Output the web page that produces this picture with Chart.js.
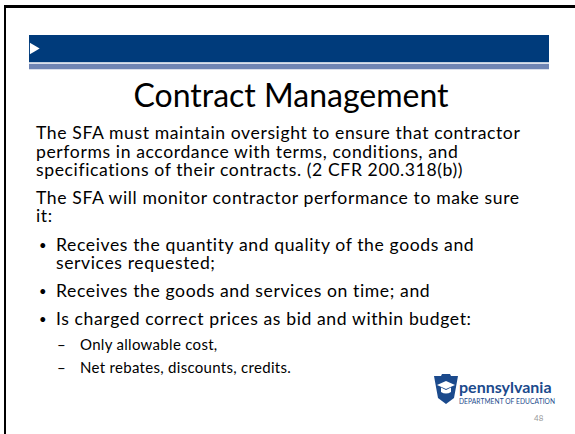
<!DOCTYPE html>
<html>
<head>
<meta charset="utf-8">
<script src="https://cdn.jsdelivr.net/npm/chart.js@4"></script>
<style>
  html, body { margin: 0; padding: 0; background: #fff; }
  body { width: 575px; height: 434px; position: relative; overflow: hidden; font-family: Lato, "Open Sans", sans-serif; color: #000; }
  .frameTop { position: absolute; left: 4px; top: 5px; width: 571px; height: 3px; background: #000; }
  .frameLeft { position: absolute; left: 4px; top: 5px; width: 2px; height: 429px; background: #000; }
  #banner { position: absolute; left: 29px; top: 35px; }
  .title { position: absolute; left: 0; width: 582px; text-align: center; top: 77px; font-size: 32px; line-height: 36px; }
  .ln { position: absolute; font-size: 17.6px; line-height: 16px; letter-spacing: 0.6px; white-space: nowrap; }
  .dot { position: absolute; font-size: 13px; line-height: 16px; }
  .sub { position: absolute; font-size: 15px; line-height: 16px; letter-spacing: 0.3px; white-space: nowrap; }
  .logo { position: absolute; left: 434px; top: 374px; }
  .pa { position: absolute; left: 459px; top: 378px; font-size: 16px; font-weight: bold; color: #1b4a8c; line-height: 18px; }
  .dept { position: absolute; left: 459px; top: 397px; font-size: 6.6px; color: #1b4a8c; line-height: 8px; letter-spacing: 0.1px; }
  .pg { position: absolute; left: 534px; top: 413px; font-size: 8px; color: #999; }
</style>
</head>
<body>
<div class="frameTop"></div>
<div class="frameLeft"></div>
<canvas id="banner" width="520" height="35"></canvas>

<div class="title">Contract Management</div>

<div class="ln" style="left:36px; top:125px">The SFA must maintain oversight to ensure that contractor</div>
<div class="ln" style="left:36px; top:144px">performs in accordance with terms, conditions, and</div>
<div class="ln" style="left:36px; top:162px">specifications of their contracts. (2 CFR 200.318(b))</div>
<div class="ln" style="left:36px; top:190px">The SFA will monitor contractor performance to make sure</div>
<div class="ln" style="left:36px; top:208px">it:</div>
<div class="dot" style="left:39px; top:237px">•</div>
<div class="ln" style="left:56px; top:237px">Receives the quantity and quality of the goods and</div>
<div class="ln" style="left:56px; top:255px">services requested;</div>
<div class="dot" style="left:39px; top:283px">•</div>
<div class="ln" style="left:56px; top:283px">Receives the goods and services on time; and</div>
<div class="dot" style="left:39px; top:311px">•</div>
<div class="ln" style="left:56px; top:311px">Is charged correct prices as bid and within budget:</div>
<div class="sub" style="left:57px; top:336px">–</div>
<div class="sub" style="left:80px; top:336px">Only allowable cost,</div>
<div class="sub" style="left:57px; top:359px">–</div>
<div class="sub" style="left:80px; top:359px">Net rebates, discounts, credits.</div>

<svg class="logo" width="24" height="30" viewBox="0 0 24 30">
  <path d="M0 2 L7 2 L8 0 L16 0 L17 2 L24 2 L20 24 L12 30 L4 24 Z" fill="#1b4a8c"/>
  <path d="M3 11 L12 7 L21 11 L12 15 Z" fill="#fff"/>
  <path d="M7 13.5 L7 18 Q12 21 17 18 L17 13.5 L12 16 Z" fill="#fff"/>
</svg>
<div class="pa">pennsylvania</div>
<div class="dept">DEPARTMENT OF EDUCATION</div>
<div class="pg">48</div>

<script>
// banner: dark band, thin light stripe, white arrow at the left end
const bandRows = [13.5];
const stripeRows = [31.5];
const arrowRows = [13.5];
const span = [0, 1];

new Chart(document.getElementById("banner"), {
  type: "bar",
  data: {
    datasets: [{
      data: bandRows.map(y => ({ y: y, x: span })),
      backgroundColor: "#003b7b",
      barThickness: 27,
      grouped: false,
      order: 2
    }, {
      data: stripeRows.map(y => ({ y: y, x: span })),
      backgroundColor: "#6f85b4",
      barThickness: 5,
      grouped: false,
      order: 1
    }, {
      type: "scatter",
      data: arrowRows.map(y => ({ y: y, x: 0.008 })),
      pointStyle: "triangle",
      rotation: 90,
      radius: 6.5,
      backgroundColor: "#fff",
      borderWidth: 0,
      clip: false,
      order: 0
    }]
  },
  options: {
    indexAxis: "y",
    responsive: false,
    animation: false,
    layout: { padding: 0, autoPadding: false },
    plugins: { legend: { display: false }, tooltip: { enabled: false } },
    scales: {
      x: { type: "linear", min: 0, max: 1, display: false, offset: false },
      y: { type: "linear", min: 0, max: 35, reverse: true, display: false, offset: false }
    }
  }
});
</script>
</body>
</html>
